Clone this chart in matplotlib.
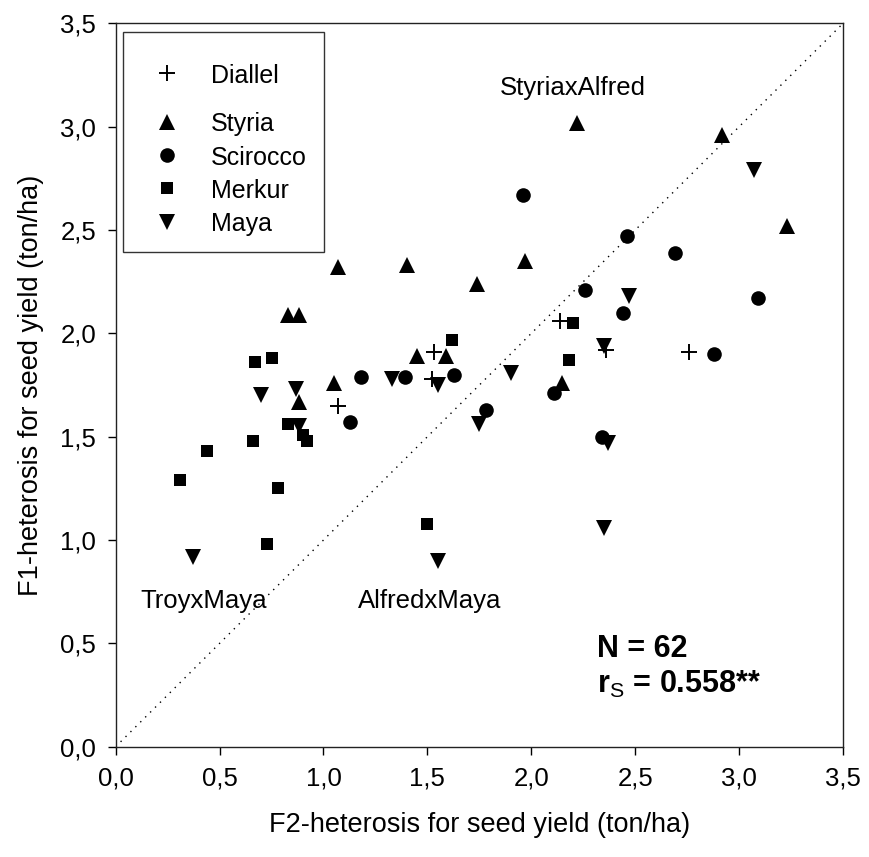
import numpy as np
import matplotlib
matplotlib.use('Agg')
import matplotlib.pyplot as plt
from matplotlib.ticker import FuncFormatter
import matplotlib.patches as mpatches

plt.rcParams['font.family'] = ['Liberation Sans', 'DejaVu Sans']
plt.rcParams['mathtext.fontset'] = 'custom'
plt.rcParams['mathtext.rm'] = 'Liberation Sans'
plt.rcParams['mathtext.bf'] = 'Liberation Sans:bold'

# F2 (x) and F1 (y) heterosis, per tester group
diallel_x = [1.07, 1.53, 1.52, 2.14, 2.36, 2.76]
diallel_y = [1.65, 1.91, 1.78, 2.06, 1.92, 1.91]

styria_x = [0.83, 0.88, 0.88, 1.05, 1.07, 1.40, 1.74, 1.97, 2.22, 1.45, 1.59, 2.15, 2.92, 3.23]
styria_y = [2.09, 2.09, 1.67, 1.76, 2.32, 2.33, 2.24, 2.35, 3.02, 1.89, 1.89, 1.76, 2.96, 2.52]

scirocco_x = [1.18, 1.13, 1.96, 2.46, 2.69, 2.26, 2.44, 1.39, 1.63, 2.11, 1.78, 2.34, 2.88, 3.09]
scirocco_y = [1.79, 1.57, 2.67, 2.47, 2.39, 2.21, 2.10, 1.79, 1.80, 1.71, 1.63, 1.50, 1.90, 2.17]

merkur_x = [0.67, 0.75, 0.83, 0.90, 0.92, 0.66, 0.44, 0.31, 0.78, 0.73, 1.62, 2.20, 2.18, 1.50]
merkur_y = [1.86, 1.88, 1.56, 1.51, 1.48, 1.48, 1.43, 1.29, 1.25, 0.98, 1.97, 2.05, 1.87, 1.08]

maya_x = [0.70, 0.87, 0.88, 1.33, 0.37, 1.55, 1.90, 2.35, 1.75, 2.37, 2.35, 1.55, 3.07, 2.47]
maya_y = [1.70, 1.73, 1.55, 1.78, 0.92, 1.75, 1.81, 1.94, 1.56, 1.47, 1.06, 0.90, 2.79, 2.18]

groups = ['Diallel', 'Styria', 'Scirocco', 'Merkur', 'Maya']
ticks = [0.0, 0.5, 1.0, 1.5, 2.0, 2.5, 3.0, 3.5]

fig = plt.figure(figsize=(8.69, 8.57), dpi=100)
ax = fig.add_axes([0.1331, 0.1287, 0.8370, 0.8440])

# 1:1 reference line
ax.plot([0, 3.5], [0, 3.5], color='black', lw=1.0, ls=(0, (1, 4)))

styles = {
    'Diallel': dict(marker='+', ms=11.5, mew=1.4),
    'Styria': dict(marker='^', ms=11, mew=0),
    'Scirocco': dict(marker='o', ms=10.5, mew=0),
    'Merkur': dict(marker='s', ms=9, mew=0),
    'Maya': dict(marker='v', ms=11, mew=0),
}
data = {
    'Diallel': (diallel_x, diallel_y),
    'Styria': (styria_x, styria_y),
    'Scirocco': (scirocco_x, scirocco_y),
    'Merkur': (merkur_x, merkur_y),
    'Maya': (maya_x, maya_y),
}
for g in groups:
    xs, ys = data[g]
    ax.plot(xs, ys, ls='none', color='black', mec='black', **styles[g])

ax.set_xlim(0, 3.5)
ax.set_ylim(0, 3.5)
ax.set_xticks(ticks)
ax.set_yticks(ticks)
fmt = FuncFormatter(lambda v, p: ('%.1f' % v).replace('.', ','))
ax.xaxis.set_major_formatter(fmt)
ax.yaxis.set_major_formatter(fmt)
ax.tick_params(direction='out', length=6, width=1, labelsize=18.5, pad=8)
for s in ax.spines.values():
    s.set_linewidth(1.0)
    s.set_color('#222222')

ax.set_xlabel('F2-heterosis for seed yield (ton/ha)', fontsize=19.5, labelpad=16)
ax.set_ylabel('F1-heterosis for seed yield (ton/ha)', fontsize=19.5, labelpad=12)

# crosses named on the chart
ax.text(1.85, 3.153, 'StyriaxAlfred', fontsize=18.5, ha='left', va='baseline')
ax.text(0.117, 0.671, 'TroyxMaya', fontsize=18.5, ha='left', va='baseline')
ax.text(1.167, 0.671, 'AlfredxMaya', fontsize=18.5, ha='left', va='baseline')

ax.text(2.315, 0.435, 'N = 62', fontsize=22, fontweight='bold', ha='left', va='baseline')
ax.text(2.315, 0.261, r'$\mathbf{r}_\mathrm{S}$ = 0.558**', fontsize=22, fontweight='bold',
        ha='left', va='baseline')

# legend box drawn by hand to keep the gap under Diallel
box = mpatches.Rectangle((0.0096, 0.6835), 0.2768, 0.3045, transform=ax.transAxes,
                         facecolor='white', edgecolor='#333333', lw=1.0, zorder=5)
ax.add_patch(box)
row_y = [0.931, 0.864, 0.818, 0.772, 0.726]
for g, ry in zip(groups, row_y):
    ax.plot([0.0701], [ry], ls='none', color='black', mec='black', transform=ax.transAxes,
            zorder=6, clip_on=False, **styles[g])
    ax.text(0.131, ry, g, fontsize=18, ha='left', va='center_baseline', transform=ax.transAxes,
            zorder=6)

fig.savefig('out.png', dpi=100)
